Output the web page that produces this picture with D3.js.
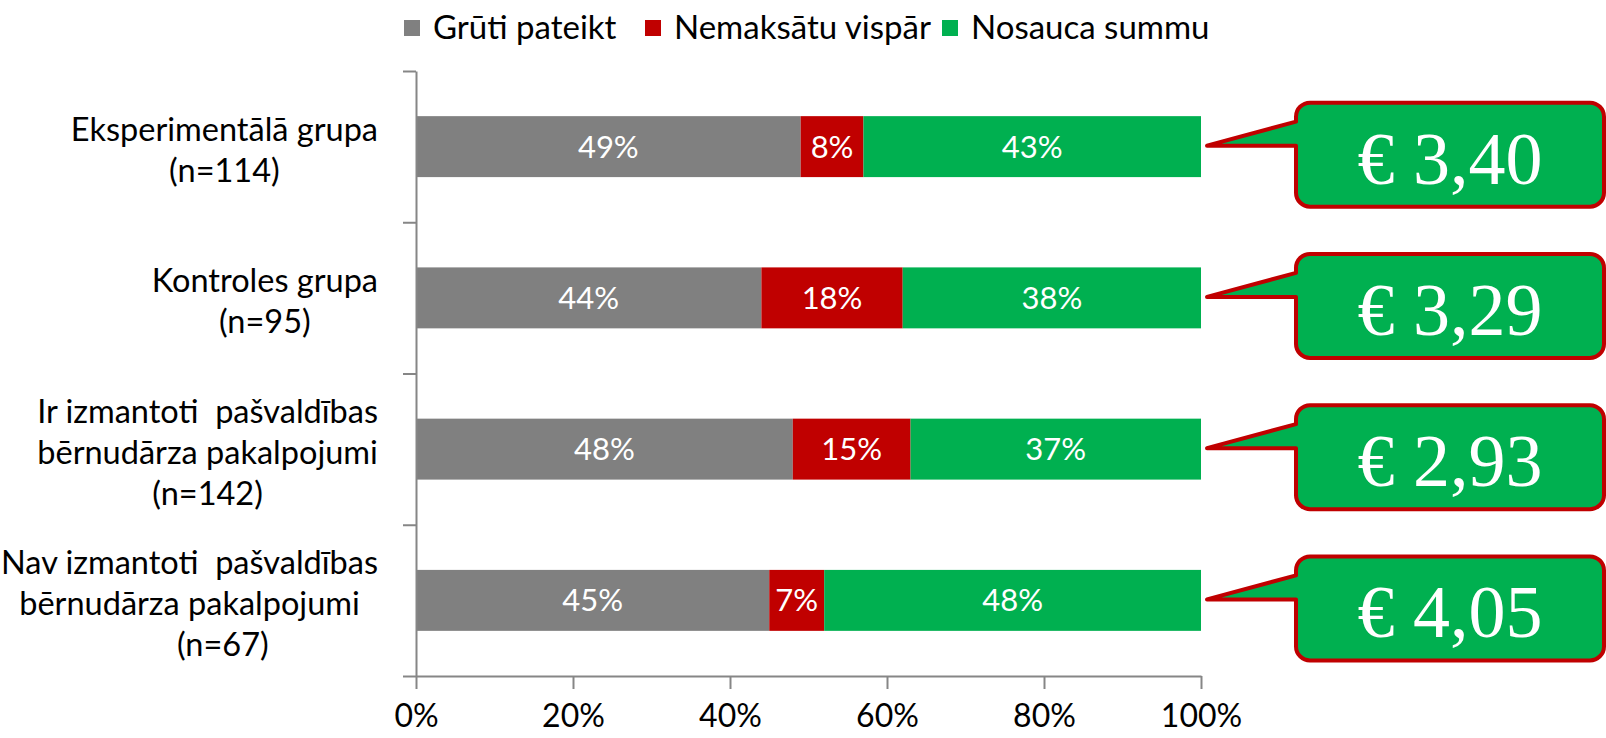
<!DOCTYPE html>
<html>
<head>
<meta charset="utf-8">
<script src="https://cdn.jsdelivr.net/npm/d3@7"></script>
<style>
  body { margin: 0; background: #fff; }
  text { font-family: Lato, "Open Sans", sans-serif; }
</style>
</head>
<body>
<div id="chart"></div>
<script>
// data
const categories = [
    ["Eksperimentālā grupa", "(n=114)"],
    ["Kontroles grupa", "(n=95)"],
    ["Ir izmantoti  pašvaldības", "bērnudārza pakalpojumi", "(n=142)"],
    ["Nav izmantoti  pašvaldības", "bērnudārza pakalpojumi", "        (n=67)"]
];
const seriesNames = ["Grūti pateikt", "Nemaksātu vispār", "Nosauca summu"];
const gruti = [49, 44, 48, 45];
const nemaksatu = [8, 18, 15, 7];
const nosauca = [43, 38, 37, 48];
const amounts = [3.40, 3.29, 2.93, 4.05];
const xTicks = [0, 0.2, 0.4, 0.6, 0.8, 1];

const colors = ["#808080", "#C00000", "#00B050"];

const svgWidth = 1606, svgHeight = 738,
    margin = { top: 71, left: 416 },
    width = 785,
    height = 605;

const svg = d3.select("#chart").append("svg")
    .attr("width", svgWidth)
    .attr("height", svgHeight);

const g = svg.append("g")
    .attr("transform", `translate(${margin.left},${margin.top})`);

// table for stacking
const rows = categories.map((c, i) => ({
    idx: i, s0: gruti[i] / 100, s1: nemaksatu[i] / 100, s2: nosauca[i] / 100
}));
const stack = d3.stack().keys(["s0", "s1", "s2"])(rows);

// scales
const x = d3.scaleLinear().domain([0, 1]).range([0, width]);
const y = d3.scaleBand().domain(d3.range(categories.length))
    .range([0, height]).paddingInner(0.597).paddingOuter(0.2985);
const yEdges = d3.scaleLinear().domain([0, categories.length]).range([0, height]);

// bars
const layers = g.selectAll("g.layer")
    .data(stack)
    .join("g")
    .attr("class", "layer")
    .attr("fill", (d, i) => colors[i]);

layers.selectAll("rect")
    .data(d => d)
    .join("rect")
    .attr("x", d => x(d[0]))
    .attr("y", d => y(d.data.idx))
    .attr("width", d => x(d[1]) - x(d[0]))
    .attr("height", y.bandwidth());

layers.selectAll("text")
    .data(d => d)
    .join("text")
    .attr("x", d => (x(d[0]) + x(d[1])) / 2)
    .attr("y", d => y(d.data.idx) + y.bandwidth() / 2 + 11)
    .attr("text-anchor", "middle")
    .attr("fill", "#fff")
    .style("font-size", "31px")
    .text(d => Math.round((d[1] - d[0]) * 100) + "%");

// axes
const xAxis = g.append("g")
    .attr("transform", `translate(0,${height})`)
    .call(d3.axisBottom(x).tickValues(xTicks).tickFormat(d3.format(".0%")).tickSize(13).tickSizeOuter(0));
xAxis.selectAll("text")
    .attr("y", 51)
    .attr("dy", null)
    .attr("fill", "#000")
    .style("font-size", "32px");

const yAxis = g.append("g")
    .call(d3.axisLeft(yEdges).tickValues(d3.range(categories.length + 1)).tickFormat("").tickSize(13).tickSizeOuter(0));

g.selectAll(".domain, .tick line")
    .attr("stroke", "#868686")
    .attr("stroke-width", 2);

// category labels
const labelRight = 378 - margin.left;
const lineH = 41;
const labels = g.selectAll("g.cat")
    .data(categories)
    .join("g")
    .attr("class", "cat");

labels.each(function (lines, i) {
    const grp = d3.select(this);
    const t = grp.selectAll("text")
        .data(lines)
        .join("text")
        .attr("xml:space", "preserve")
        .style("white-space", "pre")
        .style("font-size", "32.5px")
        .attr("fill", "#000")
        .attr("text-anchor", "middle")
        .attr("y", (d, k) => y(i) + y.bandwidth() / 2 + (k - (lines.length - 1) / 2) * lineH + 15)
        .text(d => d);
    let maxW = 0;
    t.each(function () { maxW = Math.max(maxW, this.getComputedTextLength()); });
    t.attr("x", labelRight - maxW / 2);
});

// legend
const legendX = [404, 645, 942];
const legend = svg.selectAll("g.legend")
    .data(seriesNames)
    .join("g")
    .attr("class", "legend")
    .attr("transform", (d, i) => `translate(${legendX[i]},20)`);
legend.append("rect")
    .attr("width", 16)
    .attr("height", 16)
    .attr("fill", (d, i) => colors[i]);
legend.append("text")
    .attr("x", 29)
    .attr("y", 19)
    .style("font-size", "33px")
    .attr("fill", "#000")
    .text(d => d);

// callouts with average amount
const boxL = 1296, boxR = 1604, rad = 14;
const fmt = v => "€ " + v.toFixed(2).replace(".", ",");
const callouts = svg.selectAll("g.callout")
    .data(amounts)
    .join("g")
    .attr("class", "callout");

callouts.append("path")
    .attr("fill", "#00B050")
    .attr("stroke", "#C00000")
    .attr("stroke-width", 4)
    .attr("stroke-linejoin", "round")
    .attr("d", (d, i) => {
        const cy = margin.top + y(i) + y.bandwidth() / 2;
        const top = cy - 44, bot = cy + 60, tip = margin.left + x(1) + 6;
        const p = d3.path();
        p.moveTo(boxL, cy - 25);
        p.lineTo(boxL, top + rad);
        p.arcTo(boxL, top, boxL + rad, top, rad);
        p.lineTo(boxR - rad, top);
        p.arcTo(boxR, top, boxR, top + rad, rad);
        p.lineTo(boxR, bot - rad);
        p.arcTo(boxR, bot, boxR - rad, bot, rad);
        p.lineTo(boxL + rad, bot);
        p.arcTo(boxL, bot, boxL, bot - rad, rad);
        p.lineTo(boxL, cy - 1);
        p.lineTo(tip, cy - 1);
        p.closePath();
        return p.toString();
    });

callouts.append("text")
    .attr("x", (boxL + boxR) / 2)
    .attr("y", (d, i) => margin.top + y(i) + y.bandwidth() / 2 + 37)
    .attr("text-anchor", "middle")
    .attr("fill", "#fff")
    .style("font-family", "'Liberation Serif', 'DejaVu Serif', serif")
    .style("font-size", "74px")
    .text(d => fmt(d));
</script>
</body>
</html>
